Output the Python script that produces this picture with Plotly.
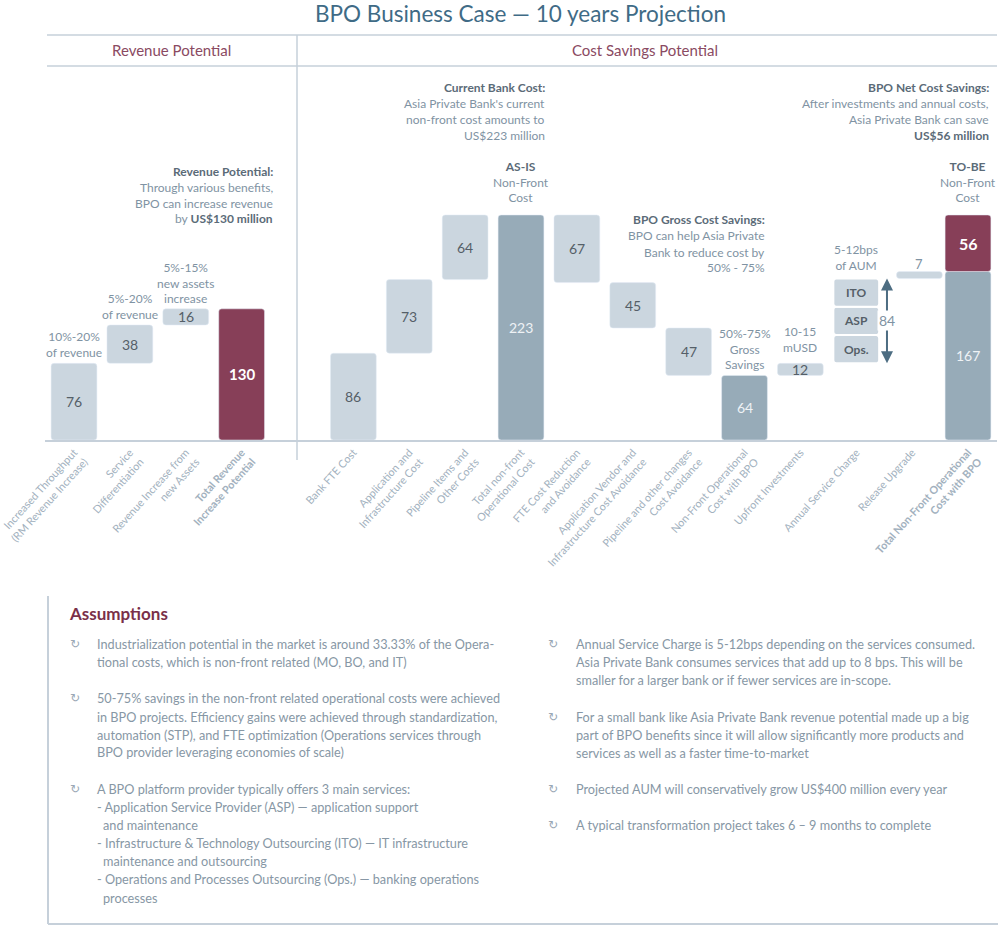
import plotly.graph_objects as go

W, H = 1000, 928
FONT = "Lato"

# ---------------- data ----------------
categories = [
    "Increased Throughput<br>(RM Revenue Increase)",
    "Service<br>Differentiation",
    "Revenue Increase from<br>new Assets",
    "<b>Total Revenue<br>Increase Potential</b>",
    "",
    "Bank FTE Cost",
    "Application and<br>Infrastructure Cost",
    "Pipeline Items and<br>Other Costs",
    "Total non-front<br>Operational Cost",
    "FTE Cost Reduction<br>and Avoidance",
    "Application Vendor and<br>Infrastructure Cost Avoidance",
    "Pipeline and other changes<br>Cost Avoidance",
    "Non-Front Operational<br>Cost with BPO",
    "Upfront Investments",
    "Annual Service Charge",
    "Release Upgrade",
    "<b>Total Non-Front Operational<br>Cost with BPO</b>",
]
revenue_steps = [76, 38, 16]
revenue_notes = ["10%-20%<br>of revenue", "5%-20%<br>of revenue", "5%-15%<br>new assets<br>increase"]
revenue_total = 130
cost_steps = [86, 73, 64]
as_is_total = 223
saving_steps = [67, 45, 47]
gross_total = 64
upfront = 12
service_parts = [28, 28, 28]
service_names = ["Ops.", "ASP", "ITO"]
release = 7
to_be_cost = 167
net_saving = 56

# colours
LIGHT = "#cbd6df"
DARK = "#97abb8"
MAROON = "#873f58"
LINE = "#c6d0da"
TXT = "#7f93a3"
BOLD = "#5b6b78"

def px(x):
    return x / W

def py(y):
    return 1 - y / H

# ---------------- bars ----------------
fig = go.Figure()

light_x, light_base, light_y = [], [], []
acc = 0
for i, v in enumerate(revenue_steps):
    light_x.append(i); light_base.append(acc); light_y.append(v); acc += v
acc = 0
for i, v in enumerate(cost_steps):
    light_x.append(5 + i); light_base.append(acc); light_y.append(v); acc += v
acc = as_is_total
for i, v in enumerate(saving_steps):
    acc -= v
    light_x.append(9 + i); light_base.append(acc); light_y.append(v)
light_x.append(13); light_base.append(gross_total); light_y.append(upfront)

fig.add_trace(go.Bar(x=light_x, y=light_y, base=light_base, marker_color=LIGHT,
                     width=0.82, hoverinfo="skip"))

svc_base = []
acc = gross_total + upfront
for v in service_parts:
    svc_base.append(acc); acc += v
fig.add_trace(go.Bar(x=[14] * len(service_parts), y=service_parts, base=svc_base,
                     marker=dict(color=LIGHT, line=dict(color="white", width=2)),
                     width=0.82, hoverinfo="skip"))
svc_top = acc

fig.add_trace(go.Bar(x=[15], y=[release], base=[svc_top], marker_color=LIGHT,
                     width=0.82, offset=-0.28, hoverinfo="skip"))

fig.add_trace(go.Bar(x=[8, 12, 16], y=[as_is_total, gross_total, to_be_cost],
                     base=[0, 0, 0], marker_color=DARK, width=0.82, hoverinfo="skip"))
fig.add_trace(go.Bar(x=[3, 16], y=[revenue_total, net_saving], base=[0, to_be_cost],
                     marker_color=MAROON, width=0.82, hoverinfo="skip"))

# ---------------- value labels ----------------
ann = []

def vlabel(x, y, text, color="#555f68", size=13, bold=False, xshift=0):
    t = f"<b>{text}</b>" if bold else text
    ann.append(dict(x=x, y=y, xref="x", yref="y", text=t, showarrow=False,
                    xanchor="center", yanchor="middle",
                    font=dict(family=FONT, size=size, color=color), xshift=xshift))

for x, b, v in zip(light_x, light_base, light_y):
    vlabel(x, b + v / 2, str(v), size=14)
for n, b, v in zip(service_names, svc_base, service_parts):
    vlabel(14, b + v / 2, f"<b>{n}</b>", size=12)
ann.append(dict(x=15, y=svc_top + release, xref="x", yref="y", text=str(release),
                showarrow=False, xanchor="center", yanchor="bottom", xshift=7, yshift=-2,
                font=dict(family=FONT, size=13, color=TXT)))
vlabel(8, as_is_total / 2, str(as_is_total), color="#eef2f5", size=14)
vlabel(12, gross_total / 2, str(gross_total), color="#eef2f5", size=14)
vlabel(16, to_be_cost / 2, str(to_be_cost), color="#eef2f5", size=14)
vlabel(3, revenue_total / 2, str(revenue_total), color="white", size=15, bold=True)
vlabel(16, to_be_cost + net_saving / 2, str(net_saving), color="white", size=16, bold=True)

acc = 0
for i, (v, note) in enumerate(zip(revenue_steps, revenue_notes)):
    acc += v
    ann.append(dict(x=i, y=acc, xref="x", yref="y", text=note, showarrow=False,
                    xanchor="center", yanchor="bottom", yshift=1,
                    font=dict(family=FONT, size=12, color=TXT)))
ann.append(dict(x=12, y=gross_total, xref="x", yref="y", text="50%-75%<br>Gross<br>Savings",
                showarrow=False, xanchor="center", yanchor="bottom", yshift=1,
                font=dict(family=FONT, size=12, color=TXT)))
ann.append(dict(x=13, y=gross_total + upfront, xref="x", yref="y", text="10-15<br>mUSD",
                showarrow=False, xanchor="center", yanchor="bottom", yshift=6,
                font=dict(family=FONT, size=12, color=TXT)))
ann.append(dict(x=14, y=svc_top, xref="x", yref="y", text="5-12bps<br>of AUM",
                showarrow=False, xanchor="center", yanchor="bottom", yshift=4,
                font=dict(family=FONT, size=12, color=TXT)))
for xx, head in [(8, "AS-IS"), (16, "TO-BE")]:
    ann.append(dict(x=xx, y=as_is_total, xref="x", yref="y",
                    text=f"<span style='color:{BOLD}'><b>{head}</b></span><br>Non-Front<br>Cost",
                    showarrow=False, xanchor="center", yanchor="bottom", yshift=8,
                    font=dict(family=FONT, size=12, color=TXT)))

mid = gross_total + upfront + sum(service_parts) / 2
for tip in [svc_top, gross_total + upfront]:
    ann.append(dict(x=14.55, y=tip, ax=14.55, ay=mid, xref="x", yref="y",
                    axref="x", ayref="y", text="", showarrow=True, arrowhead=2,
                    arrowsize=1.2, arrowwidth=2, arrowcolor="#4d6d82", standoff=0))
ann.append(dict(x=14.55, y=mid, xref="x", yref="y", text=str(sum(service_parts)),
                showarrow=False, bgcolor="white", xanchor="center", yanchor="middle",
                font=dict(family=FONT, size=14, color=TXT)))

# ---------------- explanatory blocks (paper coords) ----------------
def block(x_right, y_top, lines, size=12, spacing=16):
    for k, (t, b) in enumerate(lines):
        ann.append(dict(x=px(x_right), y=py(y_top + k * spacing), xref="paper", yref="paper",
                        text=f"<b>{t}</b>" if b else t, showarrow=False,
                        xanchor="right", yanchor="middle",
                        font=dict(family=FONT, size=size, color=BOLD if b else TXT)))

block(275, 172, [("Revenue Potential:", True), ("Through various benefits,", False),
                 ("BPO can increase revenue", False),
                 (f"by <b style='color:{BOLD}'>US${revenue_total} million</b>", False)], spacing=15.5)
block(547, 87, [("Current Bank Cost:", True), ("Asia Private Bank's current", False),
                ("non-front cost amounts to", False), (f"US${as_is_total} million", False)])
block(767, 220, [("BPO Gross Cost Savings:", True), ("BPO can help Asia Private", False),
                 ("Bank to reduce cost by", False), ("50% - 75%", False)])
block(991, 87, [("BPO Net Cost Savings:", True), ("After investments and annual costs,", False),
                ("Asia Private Bank can save", False), (f"US${net_saving} million", True)])

# ---------------- headers ----------------
def ptext(x, y, text, size, color, xanchor="center"):
    ann.append(dict(x=px(x), y=py(y), xref="paper", yref="paper", text=text,
                    showarrow=False, xanchor=xanchor, yanchor="middle",
                    font=dict(family=FONT, size=size, color=color)))

ptext(520, 14, "BPO Business Case — 10 years Projection", 22.5, "#3f6b86")
ptext(171, 50, "Revenue Potential", 15, "#8a4a62")
ptext(645, 50, "Cost Savings Potential", 15, "#8a4a62")

# ---------------- assumptions ----------------
ptext(67, 613, "<b>Assumptions</b>", 17, "#7a3049", xanchor="left")

left_bullets = [
    [(644, 0, "Industrialization potential in the market is around 33.33% of the Opera-"),
     (662, 0, "tional costs, which is non-front related (MO, BO, and IT)")],
    [(698, 0, "50-75% savings in the non-front related operational costs were achieved"),
     (717, 0, "in BPO projects. Efficiency gains were achieved through standardization,"),
     (735, 0, "automation (STP), and FTE optimization (Operations services through"),
     (752, 0, "BPO provider leveraging economies of scale)")],
    [(789, 0, "A BPO platform provider typically offers 3 main services:"),
     (807, 0, "- Application Service Provider (ASP) — application support"),
     (825, 6, "and maintenance"),
     (843, 0, "- Infrastructure & Technology Outsourcing (ITO) — IT infrastructure"),
     (861, 6, "maintenance and outsourcing"),
     (879, 0, "- Operations and Processes Outsourcing (Ops.) — banking operations"),
     (898, 6, "processes")],
]
right_bullets = [
    [(644, 0, "Annual Service Charge is 5-12bps depending on the services consumed."),
     (662, 0, "Asia Private Bank consumes services that add up to 8 bps. This will be"),
     (680, 0, "smaller for a larger bank or if fewer services are in-scope.")],
    [(717, 0, "For a small bank like Asia Private Bank revenue potential made up a big"),
     (735, 0, "part of BPO benefits since it will allow significantly more products and"),
     (753, 0, "services as well as a faster time-to-market")],
    [(789, 0, "Projected AUM will conservatively grow US$400 million every year")],
    [(825, 0, "A typical transformation project takes 6 – 9 months to complete")],
]

def bullets(groups, icon_x, text_x):
    for g in groups:
        ann.append(dict(x=px(icon_x), y=py(g[0][0]), xref="paper", yref="paper", text="↻",
                        showarrow=False, xanchor="center", yanchor="middle",
                        font=dict(family="DejaVu Sans", size=12, color="#9aa8b5")))
        for yy, ind, t in g:
            ann.append(dict(x=px(text_x + ind), y=py(yy), xref="paper", yref="paper", text=t,
                            showarrow=False, xanchor="left", yanchor="middle",
                            font=dict(family=FONT, size=12.7, color="#8797a5")))

bullets(left_bullets, 75, 95)
bullets(right_bullets, 553, 574)

# ---------------- shapes ----------------
shapes = []
def hline(y, x0, x1, w=1.5):
    shapes.append(dict(type="line", xref="paper", yref="paper", x0=px(x0), x1=px(x1),
                       y0=py(y), y1=py(y), line=dict(color=LINE, width=w)))
def vline(x, y0, y1, w=1.5):
    shapes.append(dict(type="line", xref="paper", yref="paper", x0=px(x), x1=px(x),
                       y0=py(y0), y1=py(y1), line=dict(color=LINE, width=w)))
hline(35, 47, 997)
hline(66, 47, 997)
vline(297, 35, 460)
vline(48, 596, 924, 2)
hline(924, 48, 998, 2)

# ---------------- layout ----------------
fig.update_layout(
    width=W, height=H, margin=dict(l=0, r=0, t=0, b=0),
    paper_bgcolor="white", plot_bgcolor="white",
    barmode="overlay", barcornerradius=3, showlegend=False,
    annotations=ann, shapes=shapes,
    xaxis=dict(domain=[px(45), px(997)], range=[-0.519, 16.519],
               tickvals=[i for i, c in enumerate(categories) if c],
               ticktext=[c for c in categories if c],
               tickangle=-48, tickfont=dict(family=FONT, size=10.8, color="#a2b1be"),
               ticklabeloverflow="allow",
               showline=True, linecolor=LINE, linewidth=2, ticks="",
               showgrid=False, zeroline=False, automargin=False, fixedrange=True),
    yaxis=dict(domain=[py(440), py(66.67)], range=[0, 370], visible=False,
               showgrid=False, zeroline=False, fixedrange=True),
)

fig.write_html("out.html", config={"displayModeBar": False},
               post_script="document.body.style.margin='0';document.body.style.overflow='hidden';")
